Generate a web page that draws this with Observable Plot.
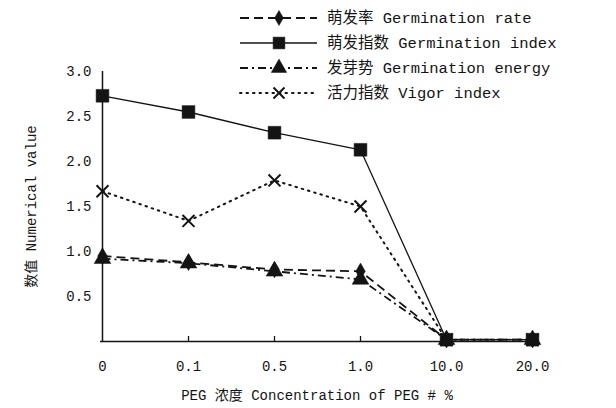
<!DOCTYPE html>
<html><head><meta charset="utf-8">
<script src="https://cdn.jsdelivr.net/npm/d3@7"></script>
<script src="https://cdn.jsdelivr.net/npm/@observablehq/plot@0.6"></script>
<style>
body{margin:0;background:#fff;}
#wrap{position:relative;width:616px;height:408px;overflow:hidden;background:#fff;}
#wrap svg{display:block;}
#legend{position:absolute;left:0;top:0;}
</style></head><body><div id="wrap"></div>
<script>
const categories = ["0", "0.1", "0.5", "1.0", "10.0", "20.0"];
const germinationRate = [0.95, 0.88, 0.80, 0.78, 0.02, 0.02];
const germinationIndex = [2.73, 2.55, 2.32, 2.13, 0.02, 0.02];
const germinationEnergy = [0.92, 0.87, 0.78, 0.69, 0.02, 0.02];
const vigorIndex = [1.67, 1.34, 1.79, 1.50, 0.02, 0.02];
const yTicks = [0.5, 1.0, 1.5, 2.0, 2.5, 3.0];
const yTickLabels = ["0.5", "1.0", "1.5", "2.0", "2.5", "3.0"];
const seriesNames = ["萌发率 Germination rate", "萌发指数 Germination index", "发芽势 Germination energy", "活力指数 Vigor index"];

const styles = [
  {symbol: "diamond", dash: "9,5", width: 1.8, r: 5, fill: true},
  {symbol: "square", dash: null, width: 1.3, r: 7.2, fill: true},
  {symbol: "triangle", dash: "8,4,2,4", width: 1.8, r: 6.2, fill: true},
  {symbol: "times", dash: "1.5,5", width: 2, r: 5.5, fill: false}
];
const seriesValues = [germinationRate, germinationIndex, germinationEnergy, vigorIndex];

const data = seriesNames.map((name, k) => categories.map((c, i) => ({series: name, x: c, y: seriesValues[k][i]})));

const font = "'Liberation Mono', 'Noto Sans CJK SC', monospace";
const ink = "#141414";

const marks = [
  Plot.ruleX([categories[0]], {y1: 0, y2: 3, stroke: ink, strokeWidth: 1.5}),
  Plot.ruleY([0], {stroke: ink, strokeWidth: 1.5, insetRight: -6}),
  Plot.ruleY(yTicks, {x1: categories[0], x2: categories[0], insetRight: -5, stroke: ink, strokeWidth: 1.3}),
  Plot.ruleX(categories.slice(1), {y1: 0, y2: 0, insetTop: -5, stroke: ink, strokeWidth: 1.3}),
  Plot.axisY(yTicks, {tickSize: 0, tickPadding: 9, fill: ink,
    tickFormat: d => yTickLabels[yTicks.indexOf(d)],
    label: "数值 Numerical value", labelAnchor: "center", labelOffset: 74, labelArrow: "none"}),
  Plot.axisX({tickSize: 0, tickPadding: 20, fill: ink,
    label: "PEG 浓度 Concentration of PEG # %", labelAnchor: "center", labelOffset: 58, labelArrow: "none"})
];
data.forEach((d, k) => {
  const s = styles[k];
  marks.push(Plot.line(d, {x: "x", y: "y", stroke: ink, strokeWidth: s.width, strokeDasharray: s.dash, strokeLinecap: s.dash && s.dash.startsWith("1.5") ? "round" : "butt"}));
});
data.forEach((d, k) => {
  const s = styles[k];
  marks.push(Plot.dot(d, {x: "x", y: "y", symbol: s.symbol, r: s.r,
    fill: s.fill ? ink : "none", stroke: ink, strokeWidth: s.fill ? 0.5 : 2}));
});

const chart = Plot.plot({
  width: 616, height: 408,
  marginLeft: 100, marginRight: 83, marginTop: 71, marginBottom: 67,
  style: {fontFamily: font, fontSize: "14px", color: ink, background: "#fff"},
  x: {type: "point", domain: categories, padding: 0},
  y: {domain: [0, 3]},
  marks
});
const wrap = document.getElementById("wrap");
wrap.appendChild(chart);

// legend overlay
const lg = d3.select(wrap).append("svg").attr("id", "legend").attr("width", 616).attr("height", 110);
const rowY = i => 18 + i * 25;
seriesNames.forEach((name, i) => {
  const s = styles[i];
  const g = lg.append("g").attr("transform", `translate(0,${rowY(i)})`);
  g.append("line").attr("x1", 240).attr("x2", 317).attr("y1", 0).attr("y2", 0)
    .attr("stroke", ink).attr("stroke-width", s.width)
    .attr("stroke-dasharray", s.dash).attr("stroke-linecap", s.dash && s.dash.startsWith("1.5") ? "round" : "butt");
  const sym = {diamond: d3.symbolDiamond, square: d3.symbolSquare, triangle: d3.symbolTriangle, times: d3.symbolTimes}[s.symbol];
  g.append("path").attr("transform", "translate(279,0)")
    .attr("d", d3.symbol(sym, Math.PI * s.r * s.r * 0.85)())
    .attr("fill", s.fill ? ink : "none").attr("stroke", ink).attr("stroke-width", s.fill ? 0.5 : 2);
  g.append("text").attr("x", 327).attr("y", 0).attr("dy", "0.35em")
    .attr("font-family", font).attr("font-size", 15.5).attr("fill", ink).text(name);
});
</script></body></html>
